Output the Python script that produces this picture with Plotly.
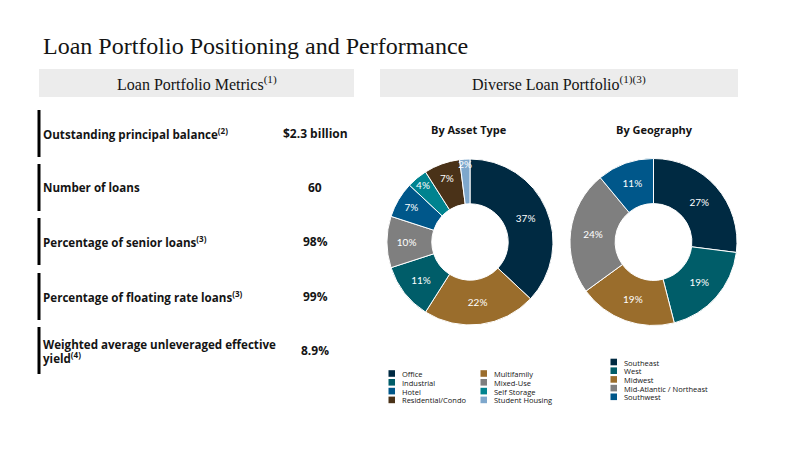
import plotly.graph_objects as go

W, H = 787, 452

# ---------------- data ----------------
title_text = "Loan Portfolio Positioning and Performance"
left_header = "Loan Portfolio Metrics<sup>(1)</sup>"
right_header = "Diverse Loan Portfolio<sup>(1)(3)</sup>"

metric_labels = [
    "Outstanding principal balance<sup>(2)</sup>",
    "Number of loans",
    "Percentage of senior loans<sup>(3)</sup>",
    "Percentage of floating rate loans<sup>(3)</sup>",
    "Weighted average unleveraged effective<br>yield<sup>(4)</sup>",
]
metric_values = ["$2.3 billion", "60", "98%", "99%", "8.9%"]

asset_types = ["Office", "Multifamily", "Industrial", "Mixed-Use", "Hotel",
               "Self Storage", "Residential/Condo", "Student Housing"]
asset_pct = [37, 22, 11, 10, 7, 4, 7, 2]
asset_colors = ["#002a42", "#9a6d2c", "#005d69", "#7f7f7f", "#00578a",
                "#00838f", "#4a3218", "#7ea7cc"]

regions = ["Southeast", "West", "Midwest", "Mid-Atlantic / Northeast", "Southwest"]
region_pct = [27, 19, 19, 24, 11]
region_colors = ["#002a42", "#005d69", "#9a6d2c", "#7f7f7f", "#00578a"]

# asset legend column layout (matches the reference arrangement)
asset_legend_cols = [["Office", "Industrial", "Hotel", "Residential/Condo"],
                     ["Multifamily", "Mixed-Use", "Self Storage", "Student Housing"]]

SERIF = "Liberation Serif, DejaVu Serif, serif"
SANS = "Open Sans, Lato, sans-serif"
LSANS = "Lato, Open Sans, sans-serif"
INK = "#141414"


def px(x):
    return x / W


def py(y):
    return 1 - y / H


def dom(cx, cy, r):
    return dict(x=[px(cx - r), px(cx + r)], y=[py(cy + r), py(cy - r)])


fig = go.Figure()

fig.add_trace(go.Pie(
    labels=asset_types, values=asset_pct, sort=False, direction="clockwise",
    rotation=0, hole=0.46, domain=dom(470, 242, 83),
    marker=dict(colors=asset_colors, line=dict(color="white", width=1)),
    texttemplate="%{value}%", textposition="inside",
    insidetextorientation="horizontal",
    textfont=dict(family=LSANS, size=10, color="white"),
    showlegend=False, hoverinfo="label+value",
))
fig.add_trace(go.Pie(
    labels=regions, values=region_pct, sort=False, direction="clockwise",
    rotation=0, hole=0.46, domain=dom(653.5, 242, 83.5),
    marker=dict(colors=region_colors, line=dict(color="white", width=1)),
    texttemplate="%{value}%", textposition="inside",
    insidetextorientation="horizontal",
    textfont=dict(family=LSANS, size=10, color="white"),
    showlegend=False, hoverinfo="label+value",
))

shapes = []
ann = []

# title
ann.append(dict(x=px(41), y=py(46), text=title_text, xanchor="left", yanchor="middle",
                showarrow=False, font=dict(family=SERIF, size=24, color=INK)))

# header boxes
for (x0, x1, txt) in [(39, 354, left_header), (380, 738, right_header)]:
    shapes.append(dict(type="rect", xref="paper", yref="paper", x0=px(x0), x1=px(x1),
                       y0=py(97), y1=py(69), fillcolor="#ececec", line=dict(width=0),
                       layer="below"))
    ann.append(dict(x=px((x0 + x1) / 2), y=py(83), text=txt, xanchor="center",
                    yanchor="middle", showarrow=False,
                    font=dict(family=SERIF, size=16, color=INK)))

# metric rows
row_tops = [110, 164, 218, 273, 327]
LINE = 13
for i, (lab, val) in enumerate(zip(metric_labels, metric_values)):
    top = row_tops[i]
    shapes.append(dict(type="rect", xref="paper", yref="paper", x0=px(37.5), x1=px(40.5),
                       y0=py(top + 47), y1=py(top), fillcolor="#000000", line=dict(width=0)))
    cy = top + 23.5
    lines = lab.split("<br>")
    y0 = cy - (len(lines) - 1) * LINE / 2
    for k, ln in enumerate(lines):
        ann.append(dict(x=px(42), y=py(y0 + k * LINE), text="<b>" + ln + "</b>",
                        xanchor="left", yanchor="middle", align="left", showarrow=False,
                        borderpad=0, font=dict(family=SANS, size=11.6, color=INK)))
    ann.append(dict(x=px(315), y=py(cy), text="<b>" + val + "</b>", xanchor="center",
                    yanchor="middle", showarrow=False,
                    font=dict(family=SANS, size=12, color=INK)))

# pie titles
ann.append(dict(x=px(469), y=py(129), text="<b>By Asset Type</b>", showarrow=False,
                xanchor="center", yanchor="middle", font=dict(family=SANS, size=11, color=INK)))
ann.append(dict(x=px(654.5), y=py(129), text="<b>By Geography</b>", showarrow=False,
                xanchor="center", yanchor="middle", font=dict(family=SANS, size=11, color=INK)))


def legend_item(x, y, color, label):
    shapes.append(dict(type="rect", xref="paper", yref="paper", x0=px(x), x1=px(x + 6.5),
                       y0=py(y + 3.3), y1=py(y - 3.3), fillcolor=color, line=dict(width=0)))
    ann.append(dict(x=px(x + 12), y=py(y + 0.5), text=label, xanchor="left", yanchor="middle",
                    showarrow=False, borderpad=0,
                    font=dict(family=SANS, size=7.5, color=INK)))


color_of = dict(zip(asset_types, asset_colors))
for ci, col in enumerate(asset_legend_cols):
    x0 = [388.5, 480.5][ci]
    for ri, lab in enumerate(col):
        legend_item(x0, 373.5 + ri * 8.8, color_of[lab], lab)

for ri, (lab, c) in enumerate(zip(regions, region_colors)):
    legend_item(610.5, 362 + ri * 8.7, c, lab)

fig.update_layout(
    width=W, height=H, margin=dict(l=0, r=0, t=0, b=0),
    paper_bgcolor="white", plot_bgcolor="white",
    shapes=shapes, annotations=ann,
    uniformtext=dict(minsize=10, mode="show"),
)

fig.write_html("out.html")
